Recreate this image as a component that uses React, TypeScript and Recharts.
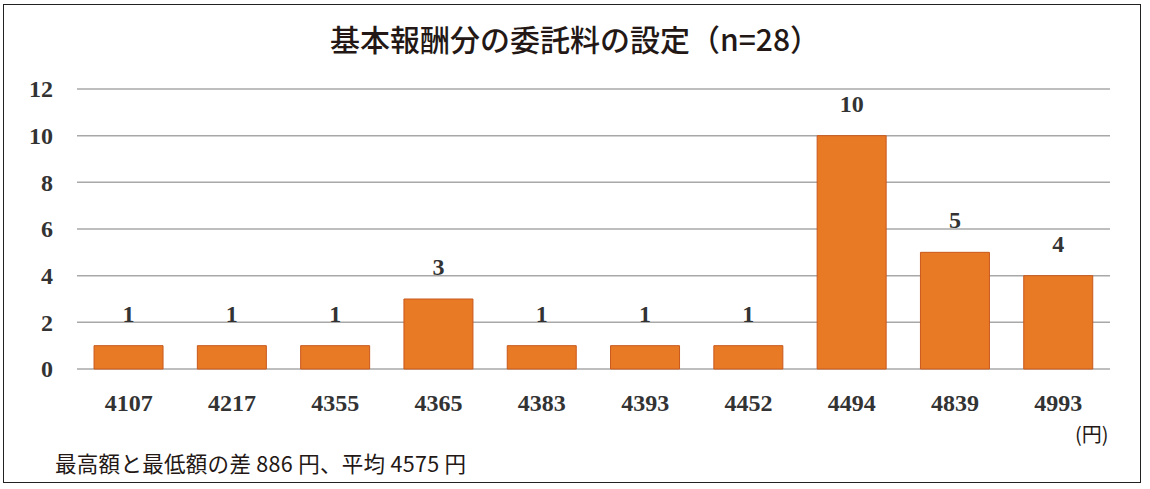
import React from 'react';
import { BarChart, Bar, XAxis, YAxis, CartesianGrid, LabelList } from 'recharts';

const amounts = ['4107', '4217', '4355', '4365', '4383', '4393', '4452', '4494', '4839', '4993'];
const counts = [1, 1, 1, 3, 1, 1, 1, 10, 5, 4];
const yTicks = [0, 2, 4, 6, 8, 10, 12];

const title = '基本報酬分の委託料の設定（n=28）';
const note = '最高額と最低額の差 886 円、平均 4575 円';
const unit = '(円)';

const data = amounts.map((a, i) => ({ amount: a, count: counts[i] }));

const serif = '"Liberation Serif", "DejaVu Serif", serif';
const sans = '"Noto Sans CJK JP", "Noto Sans", sans-serif';

const YTick = (props: any) => {
  const { x, y, payload } = props;
  return (
    <text x={x - 16} y={y} dy="0.35em" textAnchor="end" fill="#333" fontFamily={serif} fontWeight="bold" fontSize={24}>
      {payload.value}
    </text>
  );
};

export default function App() {
  return (
    <div style={{ position: 'fixed', left: 0, top: 0, width: 1150, height: 489, background: '#fff' }}>
      <div
        style={{
          position: 'absolute',
          left: 3,
          top: 4,
          width: 1136,
          height: 477,
          border: '1.5px solid #222',
        }}
      />
      <div
        style={{
          position: 'absolute',
          left: 0,
          top: 18,
          width: 1150,
          textAlign: 'center',
          fontFamily: sans,
          fontSize: 30,
          fontWeight: 500,
          color: '#231815',
          lineHeight: '40px',
        }}
      >
        {title}
      </div>
      <div style={{ position: 'absolute', left: 0, top: 0 }}>
        <BarChart width={1150} height={489} data={data} margin={{ top: 89, right: 40, left: 0, bottom: 90 }} barCategoryGap="16.5%">
          <CartesianGrid vertical={false} stroke="#a8a8a8" strokeWidth={1.5} />
          <XAxis
            dataKey="amount"
            axisLine={false}
            tickLine={false}
            height={30}
            tickMargin={19}
            interval={0}
            tick={{ fill: '#333', fontFamily: serif, fontWeight: 'bold', fontSize: 24 }}
          />
          <YAxis
            width={77}
            domain={[0, 12]}
            ticks={yTicks}
            axisLine={false}
            tickLine={false}
            tick={<YTick />}
          />
          <Bar dataKey="count" fill="#E87A26" stroke="#C9581C" strokeWidth={1} isAnimationActive={false}>
            <LabelList
              dataKey="count"
              position="top"
              offset={24}
              fill="#333"
              fontFamily={serif}
              fontWeight="bold"
              fontSize={24}
            />
          </Bar>
        </BarChart>
      </div>
      <div
        style={{
          position: 'absolute',
          left: 1075,
          top: 420,
          fontFamily: sans,
          fontSize: 20,
          color: '#231815',
          lineHeight: '28px',
        }}
      >
        {unit}
      </div>
      <div
        style={{
          position: 'absolute',
          left: 55,
          top: 449,
          fontFamily: sans,
          fontSize: 21.5,
          letterSpacing: 0.3,
          color: '#231815',
          lineHeight: '28px',
        }}
      >
        {note}
      </div>
    </div>
  );
}
